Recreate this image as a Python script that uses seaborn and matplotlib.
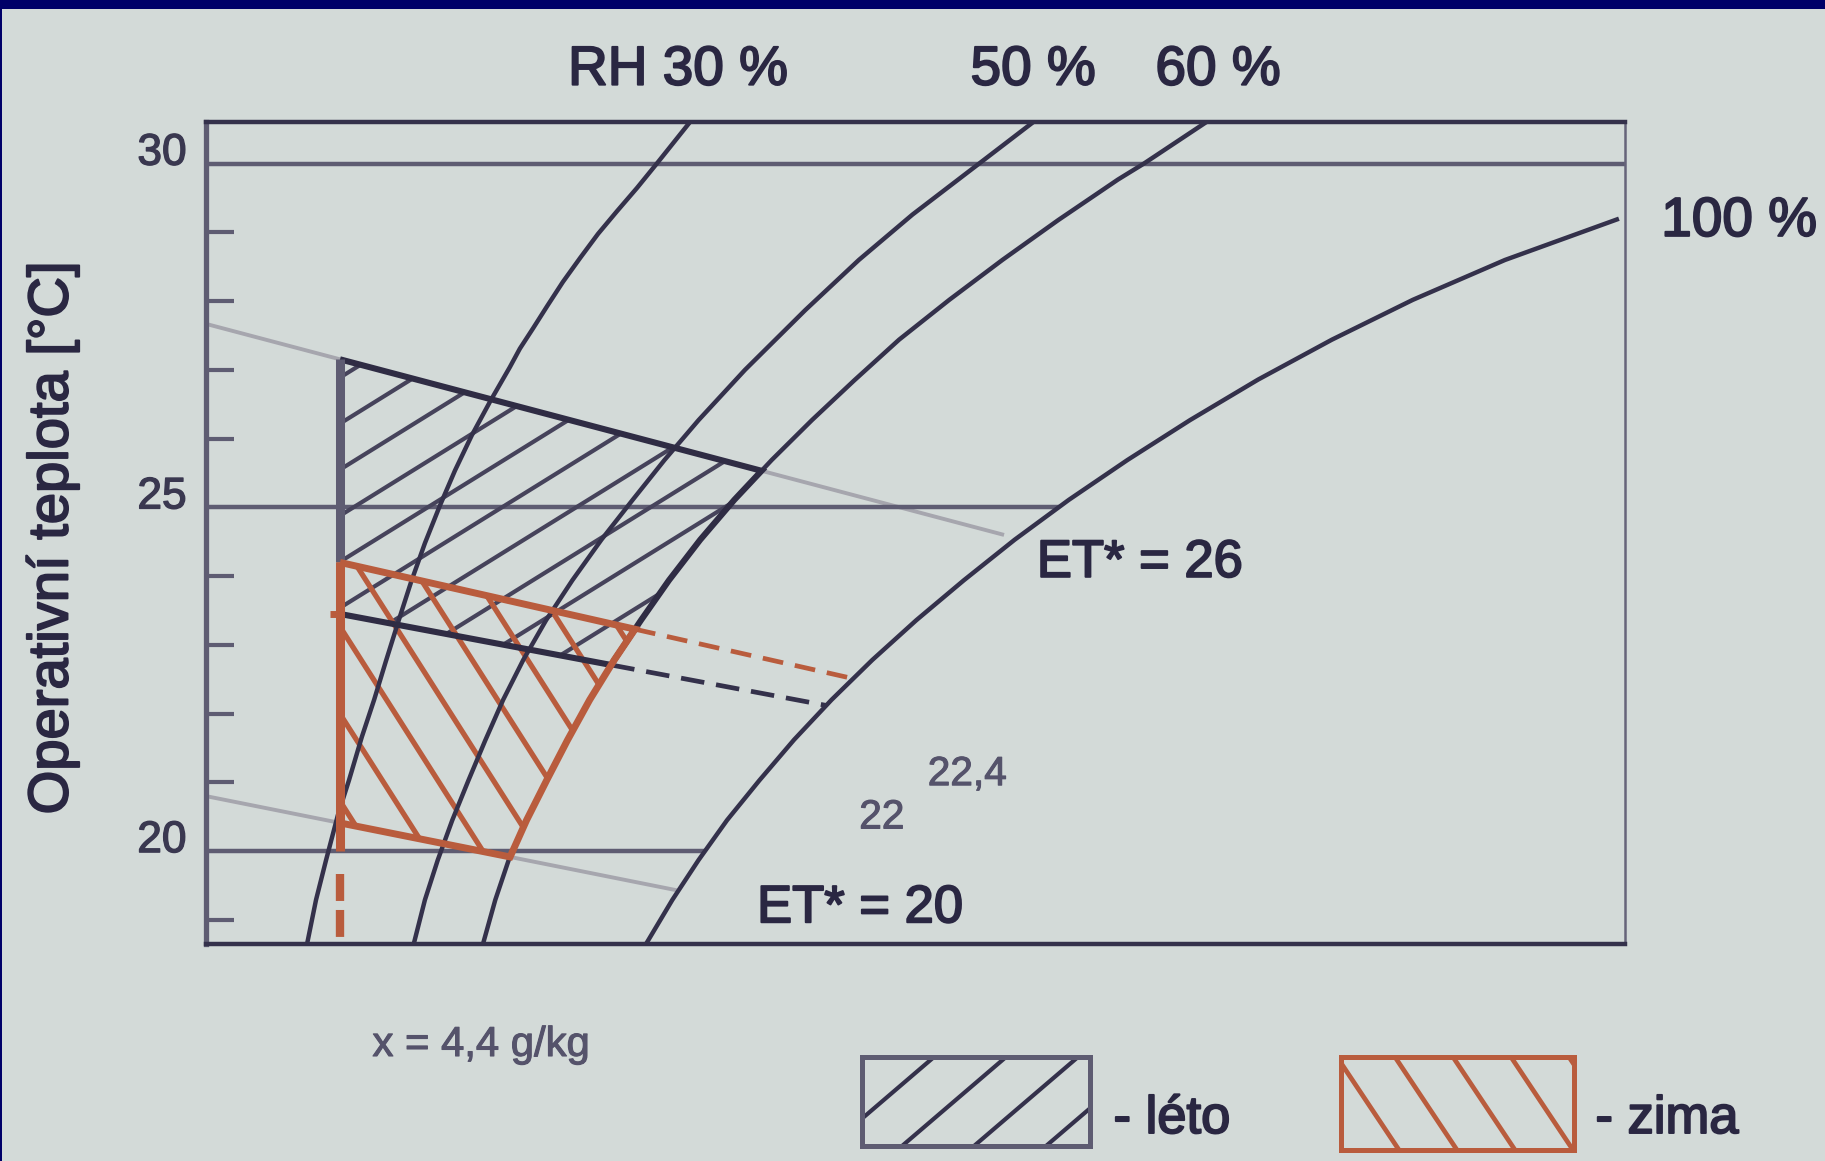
import numpy as np
import matplotlib
matplotlib.use("Agg")
import matplotlib.pyplot as plt
import matplotlib.patheffects as pe
import seaborn as sns
from matplotlib import font_manager as fm
from matplotlib.collections import LineCollection
from matplotlib.patches import Polygon, Rectangle
from matplotlib.transforms import ScaledTranslation

# ---------------- data ----------------
# x: humidity ratio [g/kg], t: operative temperature [°C]
rh30_x = [3.81, 3.97, 4.15, 4.36, 4.56, 4.79, 5.01, 5.22, 5.44, 5.67, 5.92, 6.19, 6.46, 6.76,
          7.10, 7.44, 7.62, 7.86, 8.11, 8.39, 8.70, 9.02, 9.36, 9.72, 10.08, 10.67]
rh30_t = [18.65, 19.29, 19.87, 20.52, 21.03, 21.66, 22.20, 22.76, 23.33, 23.91, 24.48, 25.03, 25.54, 26.05,
          26.56, 27.04, 27.31, 27.61, 27.93, 28.28, 28.63, 28.98, 29.31, 29.65, 30.01, 30.61]

rh50_x = [5.72, 5.92, 6.15, 6.41, 6.70, 7.00, 7.32, 7.68, 8.09, 8.56, 9.08, 9.64, 10.21, 10.82,
          11.65, 12.73, 13.69, 14.65, 15.84, 16.82]
rh50_t = [18.65, 19.29, 19.87, 20.45, 21.03, 21.61, 22.20, 22.78, 23.36, 23.94, 24.53, 25.11, 25.69, 26.27,
          27.00, 27.87, 28.60, 29.26, 30.00, 30.61]

rh60_x = [6.96, 7.18, 7.42, 7.74, 8.10, 8.47, 8.87, 9.31, 9.79, 10.29, 10.85, 11.46, 12.13, 12.85,
          13.61, 14.41, 15.31, 16.26, 17.26, 18.33, 18.79, 19.92]
rh60_t = [18.65, 19.29, 19.87, 20.45, 21.03, 21.61, 22.20, 22.78, 23.36, 23.94, 24.53, 25.11, 25.69, 26.27,
          26.85, 27.44, 28.02, 28.60, 29.18, 29.77, 30.00, 30.61]

rh100_x = [9.88, 10.35, 10.82, 11.33, 11.91, 12.53, 13.20, 13.93, 14.72, 15.57, 16.48, 17.45, 18.50,
           19.62, 20.84, 22.16, 23.61, 25.26, 27.30]
rh100_t = [18.65, 19.29, 19.87, 20.45, 21.03, 21.62, 22.20, 22.78, 23.36, 23.94, 24.53, 25.11, 25.69,
           26.27, 26.86, 27.44, 28.02, 28.60, 29.20]

# effective temperature lines ET*
et26_x, et26_t = [2.0, 16.29], [27.67, 24.60]
et20_x, et20_t = [2.0, 10.43], [20.80, 19.43]
et22_x, et22_t = [4.4, 13.10], [23.45, 22.12]     # summer lower limit
et224_x, et224_t = [4.4, 13.53], [24.20, 22.52]   # winter upper limit

x_limit = 4.4  # x = 4,4 g/kg

t_lines = [30, 25, 20]

ytick_major = [20, 25, 30]
ytick_minor = [19, 21, 22, 23, 24, 26, 27, 28, 29]

rh_labels = ["RH 30 %", "50 %", "60 %"]
rh_label_x = [10.45, 16.81, 20.12]

# ---------------- style ----------------
W, H = 1825, 1161
BG = "#d3dad8"
NAVY = "#000068"
DARK = "#34314b"
MID = "#5e5c72"
LIGHT = "#a6a6ae"
RED = "#b95c3d"
TXT = "#2a2742"
TXT2 = "#55536b"

sns.set_theme(style="white")
available = {f.name for f in fm.fontManager.ttflist}
if "Liberation Sans Narrow" in available:
    FONT, FS = "Liberation Sans Narrow", 1.0
else:
    FONT, FS = "Liberation Sans", 0.86
plt.rcParams["font.family"] = [FONT, "DejaVu Sans"]
plt.rcParams["lines.scale_dashes"] = False
plt.rcParams["lines.solid_capstyle"] = "butt"

HEAVY = [pe.withStroke(linewidth=1.4, foreground=TXT)]
HEAVY2 = [pe.withStroke(linewidth=0.8, foreground=TXT2)]

fig = plt.figure(figsize=(W / 100, H / 100), dpi=100, facecolor=BG)
ax = fig.add_axes([206 / W, 1 - 943.9 / H, 1418.5 / W, 822.1 / H])
ax.set_facecolor(BG)


def crossing(lx, lt, cx, ct):
    xs = np.linspace(max(min(lx), min(cx)), min(max(lx), max(cx)), 4001)
    d = np.interp(xs, lx, lt) - np.interp(xs, cx, ct)
    i = np.where(np.diff(np.sign(d)) != 0)[0][0]
    x0 = xs[i] - d[i] * (xs[i + 1] - xs[i]) / (d[i + 1] - d[i])
    return x0, float(np.interp(x0, lx, lt))


def curve_between(cx, ct, t_lo, t_hi):
    cx, ct = np.asarray(cx), np.asarray(ct)
    m = (ct > t_lo) & (ct < t_hi)
    return list(zip(cx[m], ct[m]))


# grey ET* lines
for lx, lt in [(et26_x, et26_t), (et20_x, et20_t)]:
    sns.lineplot(x=lx, y=lt, ax=ax, sort=False, estimator=None, color=LIGHT,
                 linewidth=2.8, legend=False, zorder=1)

# horizontal temperature lines, ending on the saturation curve
for t in t_lines:
    xe = 27.4 if t >= max(rh100_t) else float(np.interp(t, rh100_t, rh100_x))
    sns.lineplot(x=[2.0, xe], y=[t, t], ax=ax, sort=False, estimator=None, color=MID,
                 linewidth=3.2, legend=False, zorder=1.5)

# comfort zone polygons
s_tl = (x_limit, float(np.interp(x_limit, et26_x, et26_t)))
s_tr = crossing(et26_x, et26_t, rh60_x, rh60_t)
s_br = crossing(et22_x, et22_t, rh60_x, rh60_t)
s_bl = (x_limit, float(np.interp(x_limit, et22_x, et22_t)))
summer = [s_tl, s_tr] + curve_between(rh60_x, rh60_t, s_br[1], s_tr[1])[::-1] + [s_br, s_bl]

w_tl = (x_limit, float(np.interp(x_limit, et224_x, et224_t)))
w_tr = crossing(et224_x, et224_t, rh60_x, rh60_t)
w_br = crossing(et20_x, et20_t, rh60_x, rh60_t)
w_bl = (x_limit, float(np.interp(x_limit, et20_x, et20_t)))
winter = [w_tl, w_tr] + curve_between(rh60_x, rh60_t, w_br[1], w_tr[1])[::-1] + [w_br, w_bl]

# summer hatch ("/"), clipped to the zone
s_poly = Polygon(summer, closed=True, facecolor="none", edgecolor="none")
ax.add_patch(s_poly)
S_SLOPE, S_STEP, S_T0 = 0.504, 0.67, 26.22
hx = np.array([2.0, 27.4])
s_segs = [np.column_stack([hx, S_T0 + k * S_STEP + S_SLOPE * (hx - x_limit)]) for k in range(-15, 6)]
lc = LineCollection(s_segs, colors="#46435b", linewidths=3.0, zorder=2)
ax.add_collection(lc)
lc.set_clip_path(s_poly)

# winter hatch ("\"), clipped to the zone
w_poly = Polygon(winter, closed=True, facecolor="none", edgecolor="none")
ax.add_patch(w_poly)
W_SLOPE, W_STEP, W_X0, W_T0 = -1.276, 0.994, 5.671, 22.91
w_segs = []
for k in range(-8, 9):
    xk = W_X0 + k * W_STEP
    xs = np.array([xk - 6, xk + 6])
    w_segs.append(np.column_stack([xs, W_T0 + W_SLOPE * (xs - xk)]))
lc2 = LineCollection(w_segs, colors=RED, linewidths=3.8, zorder=2.5)
ax.add_collection(lc2)
lc2.set_clip_path(w_poly)

# relative humidity curves
for cx, ct in [(rh30_x, rh30_t), (rh50_x, rh50_t), (rh60_x, rh60_t), (rh100_x, rh100_t)]:
    sns.lineplot(x=cx, y=ct, ax=ax, sort=False, estimator=None, color=DARK,
                 linewidth=3.2, legend=False, zorder=3)

# dashed continuations to saturation
ax.plot([s_br[0], et22_x[1]], [s_br[1], et22_t[1]], color=DARK, lw=3.4,
        dashes=(17, 8.6), zorder=3)
ax.plot([w_tr[0], et224_x[1]], [w_tr[1], et224_t[1]], color=RED, lw=3.4,
        dashes=(15, 8.6), zorder=3)

# summer outline (left edge drawn separately)
sx = [p[0] for p in summer]
st = [p[1] for p in summer]
ax.plot(sx, st, color="#2f2c44", lw=4.4, zorder=4, solid_joinstyle="miter")
ax.plot([x_limit, x_limit], [s_tl[1], w_tl[1]], color=MID, lw=6.5, zorder=4)

# winter outline
wx = [p[0] for p in winter] + [winter[0][0]]
wt = [p[1] for p in winter] + [winter[0][1]]
ax.plot(wx, wt, color=RED, lw=5.0, zorder=5, solid_joinstyle="miter")
ax.plot([x_limit, x_limit], [w_tl[1], 20.0], color=RED, lw=6.5, zorder=5)
ax.plot([x_limit - 0.18, x_limit], [s_bl[1], s_bl[1]], color=RED, lw=5.0, zorder=5)
ax.plot([x_limit, x_limit], [19.67, 18.65], color=RED, lw=6.0, dashes=(19.4, 6.5), zorder=5)

# axes
ax.set_xlim(2.0, 27.4)
ax.set_ylim(18.65, 30.61)
ax.set_xticks([])
ax.set_yticks(ytick_major)
ax.set_yticklabels([str(v) for v in ytick_major], fontsize=37 * FS, color="#3a3850")
ax.set_yticks(ytick_minor, minor=True)
ax.tick_params(axis="y", which="major", left=True, length=0, pad=14)
ax.tick_params(axis="y", which="minor", left=True, direction="in", length=20,
               width=3.0, color=MID)
for lab in ax.get_yticklabels():
    lab.set_transform(lab.get_transform() + ScaledTranslation(0, 0.15, fig.dpi_scale_trans))
    lab.set_path_effects([pe.withStroke(linewidth=1.0, foreground="#3a3850")])
ax.set_xlabel("")
ax.set_ylabel("")
spine_style = {"left": (MID, 3.8), "top": (DARK, 3.2), "right": ("#66647a", 1.8), "bottom": (DARK, 3.2)}
for name, (c, lw) in spine_style.items():
    ax.spines[name].set_color(c)
    ax.spines[name].set_linewidth(lw)
    ax.spines[name].set_visible(True)

# annotations
for lab, lx in zip(rh_labels, rh_label_x):
    ax.text(lx, 31.15, lab, fontsize=46 * FS, color=TXT, ha="center", va="baseline",
            clip_on=False, path_effects=HEAVY)
ax.text(29.45, 28.95, "100 %", fontsize=46 * FS, color=TXT, ha="center", va="baseline",
        clip_on=False, path_effects=HEAVY)
ax.text(18.72, 23.99, "ET* = 26", fontsize=44 * FS, color=TXT, ha="center", va="baseline",
        path_effects=HEAVY)
ax.text(13.71, 18.965, "ET* = 20", fontsize=44 * FS, color=TXT, ha="center", va="baseline",
        path_effects=HEAVY)
ax.text(14.10, 20.33, "22", fontsize=34 * FS, color=TXT2, ha="center", va="baseline",
        path_effects=HEAVY2)
ax.text(15.63, 20.96, "22,4", fontsize=34 * FS, color=TXT2, ha="center", va="baseline",
        path_effects=HEAVY2)

fig.text(53 / W, 1 - 538 / H, "Operativní teplota [°C]", rotation=90, fontsize=47 * FS,
         color=TXT, ha="center", va="center", path_effects=HEAVY)
fig.text(481 / W, 1 - 1056 / H, "x = 4,4 g/kg", fontsize=35 * FS, color=TXT2,
         ha="center", va="baseline", path_effects=HEAVY2)


# legend swatches
def swatch(x0, y0, w, h, edge, lw, step, dx, direction, hatch_color, hatch_lw):
    lax = fig.add_axes([x0 / W, 1 - (y0 + h) / H, w / W, h / H])
    lax.set_xlim(0, w)
    lax.set_ylim(0, h)
    lax.set_xticks([])
    lax.set_yticks([])
    lax.set_facecolor(BG)
    for s in lax.spines.values():
        s.set_color(edge)
        s.set_linewidth(lw)
        s.set_visible(True)
    for b in np.arange(-dx - step, w + step, step):
        if direction > 0:
            lax.plot([b, b + dx], [0, h], color=hatch_color, lw=hatch_lw)
        else:
            lax.plot([b, b + dx], [h, 0], color=hatch_color, lw=hatch_lw)
    return lax


swatch(862, 1057, 228, 89, MID, 3.6, 72, 104, 1, DARK, 3.0)
swatch(1341, 1057, 233, 93, RED, 3.6, 58, 62, -1, RED, 3.4)
fig.text(1172 / W, 1 - 1133 / H, "- léto", fontsize=44 * FS, color=TXT, ha="center", va="baseline",
         path_effects=HEAVY)
fig.text(1667 / W, 1 - 1133 / H, "- zima", fontsize=44 * FS, color=TXT, ha="center", va="baseline",
         path_effects=HEAVY)

# frame
fig.add_artist(Rectangle((0, 1 - 9 / H), 1, 9 / H, transform=fig.transFigure,
                         facecolor=NAVY, edgecolor="none"))
fig.add_artist(Rectangle((0, 0), 2 / W, 1, transform=fig.transFigure,
                         facecolor=NAVY, edgecolor="none"))

fig.savefig("out.png", dpi=100, facecolor=BG)
